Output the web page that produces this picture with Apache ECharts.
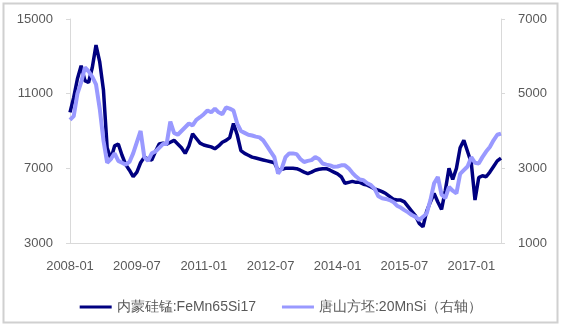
<!DOCTYPE html>
<html><head><meta charset="utf-8">
<script src="https://cdn.jsdelivr.net/npm/echarts@6/dist/echarts.min.js"></script>
<style>html,body{margin:0;padding:0;background:#fff;}#c{width:562px;height:327px;}</style>
</head><body><div id="c"></div>
<script>
const categories = [
'2008-01','2008-02','2008-03','2008-04','2008-05','2008-06','2008-07','2008-08','2008-09','2008-10','2008-11','2008-12',
'2009-01','2009-02','2009-03','2009-04','2009-05','2009-06','2009-07','2009-08','2009-09','2009-10','2009-11','2009-12',
'2010-01','2010-02','2010-03','2010-04','2010-05','2010-06','2010-07','2010-08','2010-09','2010-10','2010-11','2010-12',
'2011-01','2011-02','2011-03','2011-04','2011-05','2011-06','2011-07','2011-08','2011-09','2011-10','2011-11','2011-12',
'2012-01','2012-02','2012-03','2012-04','2012-05','2012-06','2012-07','2012-08','2012-09','2012-10','2012-11','2012-12',
'2013-01','2013-02','2013-03','2013-04','2013-05','2013-06','2013-07','2013-08','2013-09','2013-10','2013-11','2013-12',
'2014-01','2014-02','2014-03','2014-04','2014-05','2014-06','2014-07','2014-08','2014-09','2014-10','2014-11','2014-12',
'2015-01','2015-02','2015-03','2015-04','2015-05','2015-06','2015-07','2015-08','2015-09','2015-10','2015-11','2015-12',
'2016-01','2016-02','2016-03','2016-04','2016-05','2016-06','2016-07','2016-08','2016-09','2016-10','2016-11','2016-12',
'2017-01','2017-02','2017-03','2017-04','2017-05','2017-06','2017-07','2017-08','2017-09'];
const xTickLabels = ['2008-01','2009-07','2011-01','2012-07','2014-01','2015-07','2017-01'];
const leftTicks = [3000, 7000, 11000, 15000];
const rightTicks = [1000, 3000, 5000, 7000];
const seriesNames = ['内蒙硅锰:FeMn65Si17', '唐山方坯:20MnSi（右轴）'];
const siliconManganese = [
10000,10800,11800,12500,11700,11600,12400,13600,12700,11200,8100,7500,
8200,8300,7700,7200,6900,6550,6800,7300,7600,7500,7450,7900,
8300,8350,8300,8400,8500,8300,8100,7800,8200,8850,8600,8350,
8250,8200,8150,8050,8200,8400,8500,8650,9400,8800,7950,7800,
7700,7600,7550,7500,7450,7400,7350,7300,6900,6950,7000,7000,
7000,6980,6900,6800,6720,6800,6900,6950,6980,6980,6900,6800,
6700,6550,6200,6250,6300,6250,6250,6150,6100,6000,5900,5830,
5750,5650,5500,5350,5300,5300,5200,4950,4700,4450,4050,3870,
4700,5200,5650,5200,4800,5800,7000,6400,7000,8100,8500,7900,
7300,5300,6500,6600,6550,6800,7100,7400,7550];
const billet = [
4300,4400,5000,5300,5700,5600,5450,5250,4600,3750,3150,3250,
3400,3200,3150,3100,3170,3400,3700,4000,3300,3200,3400,3450,
3550,3650,3650,4250,3950,3900,4000,4100,4200,4150,4300,4370,
4450,4550,4500,4600,4500,4450,4630,4600,4550,4200,4000,3950,
3900,3880,3850,3830,3750,3600,3450,3300,2860,3000,3300,3400,
3400,3380,3250,3170,3200,3220,3300,3250,3130,3100,3080,3040,
3050,3080,3080,3000,2880,2780,2700,2680,2600,2550,2450,2250,
2200,2180,2150,2100,2000,1950,1880,1820,1750,1700,1620,1700,
1790,2150,2600,2770,2300,2200,2500,2400,2330,2850,2950,3050,
3300,3150,3130,3300,3450,3570,3750,3900,3930];

const FONT = 'Liberation Sans';
const plain = v => String(v);
const chart = echarts.init(document.getElementById('c'), null, {renderer:'canvas'});
chart.setOption({
  animation: false,
  backgroundColor: '#fff',
  grid: {left: 70, right: 61, top: 19, bottom: 84, containLabel: false},
  legend: {
    bottom: 8, left: 'center', itemGap: 26, itemWidth: 32, itemHeight: 3,
    icon: 'rect',
    textStyle: {color: '#595959', fontSize: 14, fontFamily: FONT},
    data: seriesNames
  },
  graphic: [{type:'rect', shape:{x:3.5,y:3.5,width:554,height:319}, style:{fill:'none', stroke:'#d0d0d0', lineWidth:2}, silent:true}],
  xAxis: {
    type: 'category', data: categories, boundaryGap: false,
    axisLine: {lineStyle: {color: '#d9d9d9', width: 1}},
    axisTick: {show: false},
    axisLabel: {
      interval: (i, v) => xTickLabels.indexOf(v) >= 0,
      color: '#595959', fontSize: 13, fontFamily: FONT, margin: 17
    },
    splitLine: {show: false}
  },
  yAxis: [{
    type: 'value', min: leftTicks[0], max: leftTicks[leftTicks.length-1], interval: 4000,
    axisLine: {show: true, lineStyle: {color: '#d9d9d9'}},
    axisTick: {show: true, length: 4, lineStyle: {color: '#d9d9d9'}},
    axisLabel: {color: '#595959', fontSize: 13, fontFamily: FONT, margin: 17, formatter: plain},
    splitLine: {show: false}
  }, {
    type: 'value', min: rightTicks[0], max: rightTicks[rightTicks.length-1], interval: 2000,
    position: 'right',
    axisLine: {show: true, lineStyle: {color: '#d9d9d9'}},
    axisTick: {show: true, length: 4, lineStyle: {color: '#d9d9d9'}},
    axisLabel: {color: '#595959', fontSize: 13, fontFamily: FONT, margin: 17, formatter: plain},
    splitLine: {show: false}
  }],
  series: [{
    name: seriesNames[0], type: 'line', yAxisIndex: 0, data: siliconManganese,
    showSymbol: false, symbol: 'none', color: '#000080',
    lineStyle: {color: '#000080', width: 3.5}, z: 2
  }, {
    name: seriesNames[1], type: 'line', yAxisIndex: 1, data: billet,
    showSymbol: false, symbol: 'none', color: '#9999ff',
    lineStyle: {color: '#9999ff', width: 4}, z: 3
  }]
});
</script></body></html>
